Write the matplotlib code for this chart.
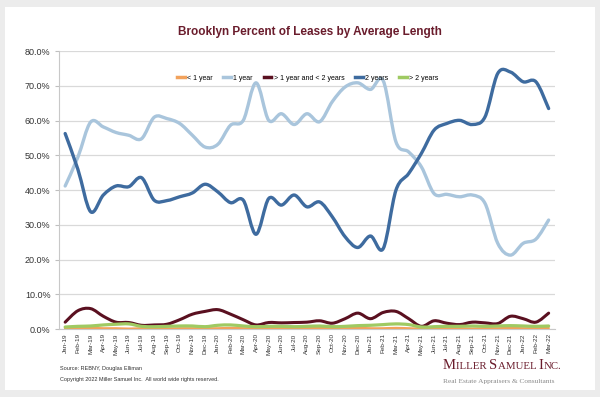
import matplotlib
matplotlib.use('Agg')
import matplotlib.pyplot as plt
import numpy as np
import pandas as pd
from matplotlib.path import Path
from matplotlib.patches import PathPatch, Rectangle
from matplotlib.lines import Line2D

months = pd.date_range('2019-01-01', periods=39, freq='MS').strftime('%b-%y').tolist()

under_1yr = [0.2, 0.2, 0.3, 0.2, 0.2, 0.1, 0.2, 0.2, 0.1, 0.2, 0.2, 0.2, 0.2,
             0.3, 0.2, 0.1, 0.2, 0.2, 0.1, 0.2, 0.3, 0.2, 0.2, 0.3, 0.2, 0.2,
             0.3, 0.2, 0.1, 0.2, 0.2, 0.2, 0.1, 0.2, 0.2, 0.3, 0.2, 0.2, 0.3]
one_yr = [41.2, 49.5, 59.6, 58.2, 56.6, 55.8, 54.8, 61.0, 60.6, 59.2, 55.8,
          52.4, 53.2, 58.7, 60.1, 70.9, 60.1, 62.0, 58.9, 62.0, 59.7, 65.5,
          69.7, 70.9, 69.0, 71.5, 53.9, 51.0, 46.7, 39.0, 38.8, 38.1, 38.6,
          36.2, 24.7, 21.3, 24.7, 25.9, 31.4]
between_1_2yr = [2.0, 5.3, 5.9, 3.7, 2.0, 1.9, 1.1, 1.2, 1.4, 2.7, 4.3, 5.1,
                 5.6, 4.3, 2.7, 1.2, 1.9, 1.8, 1.9, 2.0, 2.4, 1.7, 3.0, 4.6,
                 3.0, 4.8, 5.1, 3.0, 0.8, 2.4, 1.7, 1.3, 2.0, 1.8, 1.6, 3.7,
                 3.0, 2.0, 4.6]
two_yr = [56.3, 46.0, 33.8, 38.6, 41.2, 41.0, 43.6, 37.1, 37.0, 38.1, 39.2,
          41.7, 39.5, 36.4, 37.1, 27.3, 37.6, 35.7, 38.6, 35.2, 36.6, 32.3,
          26.6, 23.5, 26.8, 23.2, 40.0, 44.8, 50.6, 57.3, 59.2, 60.1, 58.9,
          61.1, 73.6, 74.0, 71.2, 71.2, 63.5]
over_2yr = [0.6, 0.8, 0.9, 1.2, 1.4, 1.5, 0.8, 0.7, 0.8, 0.9, 0.9, 0.7, 1.1,
            1.2, 0.9, 0.7, 0.8, 0.8, 0.7, 0.8, 0.9, 0.7, 0.8, 1.0, 1.1, 1.3,
            1.5, 1.3, 0.6, 0.7, 0.8, 0.8, 0.9, 0.8, 0.9, 1.0, 0.9, 0.8, 0.9]

series = [
    ('< 1 year', under_1yr, '#f2a25c', 1.8),
    ('1 year', one_yr, '#a9c5dc', 2.4),
    ('> 1 year and < 2 years', between_1_2yr, '#5a1020', 2.2),
    ('2 years', two_yr, '#3e6b9f', 2.4),
    ('> 2 years', over_2yr, '#9fca62', 2.3),
]


def smooth_path(y):
    # excel style smoothed line: bezier through the points
    pts = np.column_stack([np.arange(len(y)), y]).astype(float)
    n = len(pts)
    verts = [pts[0]]
    codes = [Path.MOVETO]
    for i in range(n - 1):
        p0 = pts[max(i - 1, 0)]
        p1 = pts[i]
        p2 = pts[i + 1]
        p3 = pts[min(i + 2, n - 1)]
        verts += [p1 + (p2 - p0) / 6, p2 - (p3 - p1) / 6, p2]
        codes += [Path.CURVE4] * 3
    return Path(verts, codes)


fig = plt.figure(figsize=(6, 3.97), dpi=100, facecolor='#ececec')
fig.add_artist(Rectangle((0.009, 0.018), 0.982, 0.964, transform=fig.transFigure,
                         facecolor='white', edgecolor='none', zorder=0))
plt.rcParams['font.family'] = ['Liberation Sans', 'DejaVu Sans']

ax = fig.add_axes([0.098, 0.171, 0.827, 0.700])
ax.set_facecolor('none')

handles = []
for name, vals, color, lw in series:
    ax.add_patch(PathPatch(smooth_path(vals), facecolor='none', edgecolor=color,
                           linewidth=lw, capstyle='round', joinstyle='round', zorder=3))
    handles.append(Line2D([], [], color=color, linewidth=2.5, label=name))

ax.set_xlim(-0.5, len(months) - 0.5)
ax.set_ylim(0, 80)
ax.set_yticks(np.arange(0, 81, 10))
ax.set_yticklabels(['%.1f%%' % v for v in np.arange(0, 81, 10)], fontsize=6.5, color='#333333')
ax.set_xticks(np.arange(len(months)))
ax.set_xticklabels(months, rotation=90, fontsize=4.6, color='#333333')
ax.tick_params(axis='x', length=0, pad=3)
ax.tick_params(axis='y', length=3, color='#bfbfbf', pad=3)
ax.yaxis.grid(True, color='#d9d9d9', linewidth=0.9)
ax.set_axisbelow(True)
for s in ['top', 'right']:
    ax.spines[s].set_visible(False)
ax.spines['left'].set_color('#c8c8c8')
ax.spines['bottom'].set_color('#c8c8c8')

fig.text(0.516, 0.919, 'Brooklyn Percent of Leases by Average Length', ha='center',
         va='center', fontsize=8.5, fontweight='bold', color='#6a1c2c')
fig.legend(handles=handles, loc='center', bbox_to_anchor=(0.513, 0.803), ncol=5,
           frameon=False, fontsize=5, handlelength=1.1, handletextpad=0.3,
           columnspacing=1.6)

fig.text(0.100, 0.071, 'Source: REBNY, Douglas Elliman', fontsize=4, color='#333333', va='center')
fig.text(0.100, 0.045, 'Copyright 2022 Miller Samuel Inc.  All world wide rights reserved.',
         fontsize=4, color='#333333', va='center')

# small caps logo text
renderer = fig.canvas.get_renderer()
x = 443 / 600
y = 1 - 369 / 397
for part, size in [('M', 10.5), ('ILLER ', 7.8), ('S', 10.5), ('AMUEL ', 7.8),
                   ('I', 10.5), ('NC.', 7.8)]:
    t = fig.text(x, y, part, fontsize=size, family='Liberation Serif',
                 color='#6a1c2c', va='baseline')
    bb = t.get_window_extent(renderer)
    x += bb.width / fig.bbox.width
fig.text(443 / 600, 1 - 382 / 397, 'Real Estate Appraisers & Consultants', fontsize=5.3,
         family='Liberation Serif', color='#8a8a8a', va='center')

fig.savefig('out.png', dpi=100, facecolor=fig.get_facecolor())
